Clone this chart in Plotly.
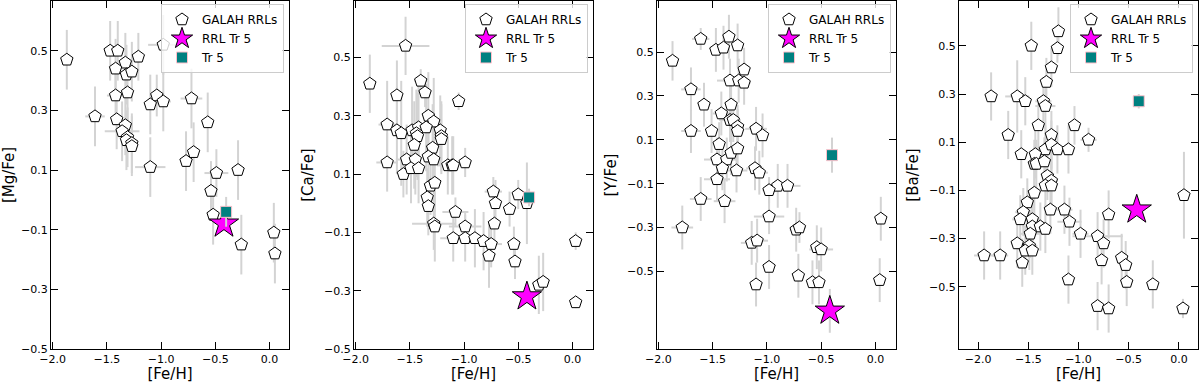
import plotly.graph_objects as go

# ---------------- data ----------------
# Panel 1: [Mg/Fe]
fe_mg = [-1.87, -1.47, -1.40, -1.33, -1.42, -1.32, -1.27, -1.21, -0.98, -1.42, -1.31, -1.04,
         -1.10, -0.98, -0.72, -1.61, -1.41, -1.33, -1.36, -1.31, -1.32, -1.27, -1.27, -0.57,
         -1.10, -0.77, -0.70, -0.29, -0.49, -0.54, -0.52, -0.26, 0.04, 0.05]
mg_fe = [0.47, 0.50, 0.50, 0.46, 0.44, 0.42, 0.43, 0.48, 0.52, 0.35, 0.36, 0.35,
         0.32, 0.33, 0.34, 0.28, 0.27, 0.25, 0.23, 0.21, 0.20, 0.19, 0.18, 0.26,
         0.11, 0.13, 0.16, 0.10, 0.09, 0.03, -0.05, -0.15, -0.11, -0.18]
fe_mg_err = [0.02, 0.03, 0.03, 0.03, 0.03, 0.03, 0.03, 0.03, 0.14, 0.08, 0.03, 0.05,
             0.03, 0.07, 0.10, 0.09, 0.03, 0.03, 0.16, 0.03, 0.03, 0.03, 0.03, 0.03,
             0.14, 0.03, 0.03, 0.03, 0.11, 0.03, 0.03, 0.03, 0.03, 0.03]
mg_fe_err = [0.10, 0.10, 0.10, 0.10, 0.10, 0.10, 0.10, 0.08, 0.10, 0.10, 0.10, 0.07,
             0.10, 0.10, 0.10, 0.10, 0.10, 0.10, 0.10, 0.10, 0.10, 0.10, 0.10, 0.10,
             0.10, 0.10, 0.10, 0.10, 0.08, 0.10, 0.10, 0.10, 0.10, 0.10]

# Panel 2: [Ca/Fe]
fe_ca = [-1.54, -1.87, -1.40, -1.36, -1.62, -1.05, -1.71, -1.62, -1.58, -1.33, -1.28, -1.48,
         -1.42, -1.35, -1.44, -1.43, -1.22, -1.21, -1.21, -1.46, -1.29, -1.71, -1.53, -1.45,
         -1.33, -1.28, -1.56, -1.49, -1.42, -1.15, -1.11, -1.10, -0.99, -1.31, -1.27, -1.34,
         -1.33, -1.08, -1.28, -1.27, -0.99, -1.10, -0.99, -0.90, -0.82, -0.75, -0.77, -0.73,
         -0.71, -0.72, -0.58, -0.50, -0.42, -0.54, -0.53, -0.31, -0.27, 0.03, 0.03]
ca_fe = [0.54, 0.41, 0.42, 0.38, 0.37, 0.35, 0.27, 0.25, 0.24, 0.30, 0.28, 0.25,
         0.26, 0.26, 0.24, 0.23, 0.25, 0.23, 0.22, 0.20, 0.19, 0.14, 0.15, 0.15,
         0.16, 0.15, 0.10, 0.12, 0.12, 0.13, 0.13, 0.13, 0.14, 0.06, 0.07, 0.02,
         -0.01, -0.03, -0.07, -0.08, -0.08, -0.12, -0.12, -0.12, -0.13, -0.14, -0.18, 0.04,
         0.00, -0.07, -0.02, 0.03, 0.00, -0.14, -0.20, -0.28, -0.27, -0.13, -0.34]
fe_ca_err = [0.22, 0.02, 0.06, 0.03, 0.04, 0.05, 0.08, 0.04, 0.04, 0.04, 0.04, 0.05,
             0.04, 0.04, 0.04, 0.04, 0.04, 0.04, 0.04, 0.04, 0.04, 0.10, 0.10, 0.04,
             0.04, 0.04, 0.04, 0.04, 0.04, 0.10, 0.04, 0.04, 0.05, 0.04, 0.04, 0.04,
             0.04, 0.12, 0.20, 0.04, 0.15, 0.12, 0.04, 0.04, 0.10, 0.10, 0.04, 0.08,
             0.04, 0.04, 0.04, 0.05, 0.04, 0.04, 0.04, 0.04, 0.04, 0.04, 0.04]
ca_fe_err = [0.10, 0.10, 0.04, 0.05, 0.12, 0.03, 0.15, 0.15, 0.18, 0.15, 0.15, 0.15,
             0.15, 0.15, 0.15, 0.15, 0.12, 0.12, 0.12, 0.15, 0.15, 0.10, 0.12, 0.12,
             0.12, 0.12, 0.08, 0.12, 0.12, 0.10, 0.10, 0.10, 0.05, 0.10, 0.10, 0.10,
             0.10, 0.05, 0.09, 0.12, 0.05, 0.08, 0.08, 0.10, 0.10, 0.08, 0.11, 0.05,
             0.08, 0.08, 0.06, 0.05, 0.14, 0.06, 0.06, 0.10, 0.10, 0.03, 0.02]

# Panel 3: [Y/Fe]
fe_y = [-1.87, -1.61, -1.35, -1.47, -1.40, -1.27, -1.21, -1.34, -1.26, -1.21, -1.70, -1.58,
        -1.33, -1.42, -1.70, -1.51, -1.34, -1.31, -1.27, -1.27, -1.10, -1.04, -1.44, -1.46,
        -1.37, -1.33, -1.27, -1.41, -1.28, -1.46, -1.11, -1.07, -0.90, -0.81, -0.98, -1.61,
        -1.39, -1.78, -0.98, -1.14, -1.09, -0.73, -0.70, -0.98, -1.10, -0.71, -0.54, -0.50,
        -0.58, -0.52, 0.05, 0.04]
y_fe = [0.46, 0.56, 0.57, 0.51, 0.52, 0.53, 0.42, 0.37, 0.37, 0.36, 0.33, 0.26,
        0.26, 0.22, 0.14, 0.14, 0.19, 0.19, 0.16, 0.14, 0.15, 0.12, 0.08, 0.01,
        0.01, 0.04, 0.06, -0.03, -0.04, -0.08, -0.03, -0.05, -0.11, -0.11, -0.13, -0.17,
        -0.18, -0.30, -0.25, -0.37, -0.36, -0.31, -0.30, -0.48, -0.56, -0.52, -0.39, -0.40,
        -0.55, -0.55, -0.26, -0.54]
fe_y_err = [0.02, 0.08, 0.03, 0.03, 0.03, 0.03, 0.03, 0.12, 0.06, 0.06, 0.09, 0.03,
            0.03, 0.08, 0.09, 0.05, 0.10, 0.03, 0.03, 0.03, 0.10, 0.05, 0.03, 0.12,
            0.10, 0.03, 0.03, 0.03, 0.10, 0.12, 0.08, 0.08, 0.10, 0.12, 0.06, 0.10,
            0.10, 0.10, 0.14, 0.10, 0.10, 0.06, 0.06, 0.03, 0.03, 0.03, 0.06, 0.11,
            0.03, 0.03, 0.03, 0.03]
y_fe_err = [0.09, 0.05, 0.10, 0.10, 0.10, 0.10, 0.10, 0.10, 0.10, 0.10, 0.10, 0.10,
            0.10, 0.10, 0.10, 0.10, 0.10, 0.10, 0.10, 0.10, 0.10, 0.10, 0.10, 0.10,
            0.10, 0.10, 0.10, 0.10, 0.10, 0.10, 0.10, 0.10, 0.10, 0.10, 0.06, 0.10,
            0.10, 0.10, 0.08, 0.10, 0.10, 0.10, 0.07, 0.10, 0.10, 0.10, 0.10, 0.10,
            0.10, 0.10, 0.10, 0.10]

# Panel 4: [Ba/Fe]
fe_ba = [-1.87, -1.47, -1.20, -1.21, -1.27, -1.32, -1.61, -1.53, -1.35, -1.33, -1.70, -1.40,
         -1.04, -1.27, -0.90, -1.57, -1.33, -1.27, -1.21, -1.10, -1.43, -1.44, -1.42, -1.34,
         -1.31, -1.27, -1.33, -1.27, -1.44, -1.51, -1.55, -1.58, -1.46, -1.28, -1.14, -1.09,
         -1.46, -1.38, -1.33, -1.48, -1.61, -1.49, -1.53, -1.46, -1.56, -1.94, -1.78, -0.98,
         -1.10, -0.81, -0.75, -0.77, -0.70, -0.57, -0.53, -0.52, -0.81, -0.70, -0.26, 0.05, 0.04]
ba_fe = [0.29, 0.50, 0.56, 0.49, 0.41, 0.35, 0.29, 0.27, 0.27, 0.25, 0.13, 0.17,
         0.17, 0.13, 0.11, 0.05, 0.07, 0.09, 0.07, 0.07, 0.05, 0.01, 0.01, 0.02,
         -0.04, -0.06, -0.08, -0.08, -0.11, -0.15, -0.19, -0.22, -0.22, -0.18, -0.18, -0.23,
         -0.25, -0.25, -0.26, -0.28, -0.32, -0.33, -0.35, -0.35, -0.40, -0.37, -0.37, -0.28,
         -0.47, -0.29, -0.32, -0.39, -0.20, -0.38, -0.41, -0.48, -0.58, -0.59, -0.49, -0.12, -0.59]
fe_ba_err = [0.02, 0.03, 0.03, 0.03, 0.03, 0.03, 0.12, 0.04, 0.08, 0.10, 0.06, 0.03,
             0.03, 0.03, 0.08, 0.03, 0.03, 0.03, 0.03, 0.05, 0.03, 0.03, 0.03, 0.03,
             0.03, 0.06, 0.03, 0.03, 0.06, 0.03, 0.08, 0.08, 0.08, 0.03, 0.08, 0.12,
             0.10, 0.08, 0.03, 0.10, 0.06, 0.08, 0.03, 0.03, 0.03, 0.10, 0.08, 0.08,
             0.03, 0.25, 0.03, 0.03, 0.03, 0.03, 0.03, 0.03, 0.03, 0.03, 0.03, 0.03, 0.03]
ba_fe_err = [0.10, 0.10, 0.10, 0.06, 0.08, 0.10, 0.15, 0.10, 0.10, 0.10, 0.10, 0.10,
             0.08, 0.10, 0.05, 0.10, 0.10, 0.10, 0.10, 0.10, 0.10, 0.10, 0.10, 0.10,
             0.10, 0.10, 0.10, 0.10, 0.10, 0.10, 0.10, 0.10, 0.10, 0.10, 0.10, 0.10,
             0.10, 0.10, 0.10, 0.10, 0.10, 0.10, 0.10, 0.10, 0.10, 0.10, 0.10, 0.10,
             0.10, 0.10, 0.10, 0.10, 0.10, 0.10, 0.10, 0.10, 0.10, 0.10, 0.10, 0.18, 0.04]

# Trumpler 5 and its RR Lyrae
tr5_fe = -0.40
tr5_fe_err = 0.02
tr5_vals = [-0.04, 0.02, 0.03, 0.27]
tr5_errs = [0.05, 0.03, 0.08, 0.03]
rrl_fe = -0.42
rrl_vals = [-0.08, -0.32, -0.68, -0.18]
rrl_errs = [0.0, 0.0, 0.10, 0.0]

y_labels = ["[Mg/Fe]", "[Ca/Fe]", "[Y/Fe]", "[Ba/Fe]"]
x_label = "[Fe/H]"
y_tickvals = [-0.5, -0.3, -0.1, 0.1, 0.3, 0.5]
x_tickvals = [-2.0, -1.5, -1.0, -0.5, 0.0]

panels = [
    (fe_mg, mg_fe, fe_mg_err, mg_fe_err),
    (fe_ca, ca_fe, fe_ca_err, ca_fe_err),
    (fe_y, y_fe, fe_y_err, y_fe_err),
    (fe_ba, ba_fe, fe_ba_err, ba_fe_err),
]

# ---------------- layout geometry ----------------
W, H = 1200, 383
domains_px = [(51, 289), (354, 593), (657, 896), (959, 1198)]
x_ranges = [[-2.016, 0.18], [-2.016, 0.19], [-2.013, 0.19], [-2.19, 0.19]]
y_ranges = [[-0.5, 0.667], [-0.5, 0.694], [-0.854, 0.733], [-0.758, 0.686]]

FONT = "DejaVu Sans"
ERR_COLOR = "#d3d3d3"


def fmt(v):
    s = f"{v:.1f}"
    return s.replace("-", "\u2212")


fig = go.Figure()
layout = {}
for i, (fe, val, fe_err, val_err) in enumerate(panels):
    n = i + 1
    xa = "x" if n == 1 else f"x{n}"
    ya = "y" if n == 1 else f"y{n}"
    leg = "legend" if n == 1 else f"legend{n}"

    fig.add_trace(go.Scatter(
        x=fe, y=val, mode="markers", name="GALAH RRLs",
        xaxis=xa, yaxis=ya, legend=leg,
        error_x=dict(type="data", array=fe_err, color=ERR_COLOR, thickness=2, width=0),
        error_y=dict(type="data", array=val_err, color=ERR_COLOR, thickness=2, width=0),
        marker=dict(symbol="pentagon", size=13, color="white",
                    line=dict(color="black", width=1)),
    ))
    fig.add_trace(go.Scatter(
        x=[rrl_fe], y=[rrl_vals[i]], mode="markers", name="RRL Tr 5",
        xaxis=xa, yaxis=ya, legend=leg,
        error_y=dict(type="data", array=[rrl_errs[i]], color=ERR_COLOR, thickness=2, width=0),
        marker=dict(symbol="star", size=22, color="#ff00ff",
                    line=dict(color="black", width=1)),
    ))
    fig.add_trace(go.Scatter(
        x=[tr5_fe], y=[tr5_vals[i]], mode="markers", name="Tr 5",
        xaxis=xa, yaxis=ya, legend=leg,
        error_x=dict(type="data", array=[tr5_fe_err], color=ERR_COLOR, thickness=2, width=0),
        error_y=dict(type="data", array=[tr5_errs[i]], color=ERR_COLOR, thickness=2, width=0),
        marker=dict(symbol="square", size=11, color="#008080",
                    line=dict(color="pink", width=1)),
    ))

    d0, d1 = domains_px[i]
    common = dict(showline=True, linecolor="black", linewidth=1.3, mirror="ticks",
                  ticks="inside", ticklen=7, tickwidth=1, tickcolor="black",
                  showgrid=False, zeroline=False,
                  tickfont=dict(family=FONT, size=11, color="black"))
    layout["xaxis" if n == 1 else f"xaxis{n}"] = dict(
        domain=[d0 / W, d1 / W], range=x_ranges[i], anchor=ya,
        tickvals=x_tickvals, ticktext=[fmt(v) for v in x_tickvals],
        title=dict(text=x_label, font=dict(family=FONT, size=15, color="black"), standoff=4),
        **common)
    layout["yaxis" if n == 1 else f"yaxis{n}"] = dict(
        domain=[0, 1], range=y_ranges[i], anchor=xa,
        tickvals=y_tickvals, ticktext=[fmt(v) for v in y_tickvals],
        title=dict(text=y_labels[i], font=dict(family=FONT, size=15, color="black"), standoff=6),
        **common)
    layout[leg] = dict(
        x=(d1 - 5) / W, xanchor="right", y=1 - 3 / 348, yanchor="top",
        bgcolor="rgba(255,255,255,0.8)", bordercolor="#cccccc", borderwidth=1,
        font=dict(family=FONT, size=12, color="black"),
        tracegroupgap=0,
    )

fig.update_layout(
    width=W, height=H,
    margin=dict(l=0, r=0, t=1, b=34, autoexpand=False),
    plot_bgcolor="white", paper_bgcolor="white",
    showlegend=True,
    font=dict(family=FONT, color="black"),
    **layout,
)

fig.write_html(
    "out.html",
    config={"displayModeBar": False},
    post_script="document.body.style.margin='0px';document.body.style.overflow='hidden';",
)
